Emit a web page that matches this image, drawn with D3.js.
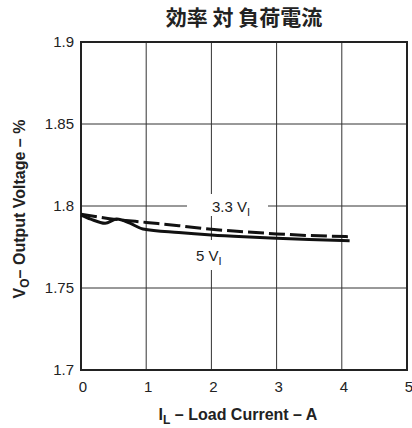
<!DOCTYPE html>
<html>
<head>
<meta charset="utf-8">
<script src="https://cdn.jsdelivr.net/npm/d3@7"></script>
<style>
  body { margin: 0; background: #fff; }
  text { font-family: "Liberation Sans", Arial, sans-serif; fill: #222; }
</style>
</head>
<body>
<svg id="chart" width="412" height="428"></svg>
<script>
// load current (A) and output voltage readings
var current5V = [0, 0.15, 0.37, 0.55, 0.75, 0.95, 1.5, 2, 2.5, 3, 3.5, 4.12];
var volts5V   = [1.7945, 1.792, 1.7895, 1.792, 1.7895, 1.786, 1.7838, 1.7823, 1.7812, 1.7803, 1.7795, 1.7788];

var current33V = [0, 0.5, 1, 1.5, 2, 2.5, 3, 3.5, 4.12];
var volts33V   = [1.795, 1.792, 1.790, 1.788, 1.7858, 1.7843, 1.783, 1.782, 1.7813];

var xTicks = [0, 1, 2, 3, 4, 5];
var yTicks = [1.7, 1.75, 1.8, 1.85, 1.9];

var svg = d3.select("#chart");

var plotL = 81, plotR = 407, plotT = 42, plotB = 370;

var x = d3.scaleLinear().domain([0, 5]).range([plotL, plotR]);
var y = d3.scaleLinear().domain([1.7, 1.9]).range([plotB, plotT]);

// grid
svg.append("g").selectAll("line")
  .data(xTicks.slice(1, -1))
  .enter().append("line")
  .attr("x1", d => x(d)).attr("x2", d => x(d))
  .attr("y1", plotT).attr("y2", plotB)
  .attr("stroke", "#333").attr("stroke-width", 1);

svg.append("g").selectAll("line")
  .data(yTicks.slice(1, -1))
  .enter().append("line")
  .attr("x1", plotL).attr("x2", plotR)
  .attr("y1", d => y(d)).attr("y2", d => y(d))
  .attr("stroke", "#333").attr("stroke-width", 1);

// label backgrounds (knock out grid behind labels)
svg.append("rect").attr("x", 187).attr("y", 194).attr("width", 81).attr("height", 22).attr("fill", "#fff");
svg.append("rect").attr("x", 192).attr("y", 240).attr("width", 36).attr("height", 30).attr("fill", "#fff");

// frame
svg.append("rect")
  .attr("x", plotL).attr("y", plotT)
  .attr("width", plotR - plotL).attr("height", plotB - plotT)
  .attr("fill", "none").attr("stroke", "#222").attr("stroke-width", 2);

var line = d3.line().x(d => x(d[0])).y(d => y(d[1])).curve(d3.curveMonotoneX);

svg.append("path")
  .datum(d3.zip(current5V, volts5V))
  .attr("d", line)
  .attr("fill", "none").attr("stroke", "#111").attr("stroke-width", 3);

svg.append("path")
  .datum(d3.zip(current33V, volts33V))
  .attr("d", line)
  .attr("fill", "none").attr("stroke", "#111").attr("stroke-width", 3)
  .attr("stroke-dasharray", "16,5");

// tick labels
svg.append("g").selectAll("text")
  .data(yTicks)
  .enter().append("text")
  .attr("x", plotL - 7).attr("y", d => y(d) + 5)
  .attr("text-anchor", "end").attr("font-size", 15)
  .text(d => d3.format("~g")(d));

svg.append("g").selectAll("text")
  .data(xTicks)
  .enter().append("text")
  .attr("x", d => x(d) + 2).attr("y", 392)
  .attr("text-anchor", "middle").attr("font-size", 15)
  .text(d => d);

// curve labels
var l1 = svg.append("text").attr("x", 212).attr("y", 212).attr("font-size", 15);
l1.append("tspan").text("3.3 V");
l1.append("tspan").attr("dy", 4).attr("font-size", 11).text("I");

var l2 = svg.append("text").attr("x", 196).attr("y", 261).attr("font-size", 15);
l2.append("tspan").text("5 V");
l2.append("tspan").attr("dy", 4).attr("font-size", 11).text("I");

// title
svg.append("text")
  .attr("x", 244).attr("y", 25)
  .attr("text-anchor", "middle")
  .attr("font-size", 21).attr("font-weight", "bold")
  .style("font-family", "'Noto Sans CJK JP', sans-serif")
  .text("効率 対 負荷電流");

// x axis title
var xt = svg.append("text")
  .attr("x", 238).attr("y", 420)
  .attr("text-anchor", "middle")
  .attr("font-size", 16).attr("font-weight", "bold");
xt.append("tspan").text("I");
xt.append("tspan").attr("dy", 4).attr("font-size", 12).text("L");
xt.append("tspan").attr("dy", -4).text(" – Load Current – A");

// y axis title
var yt = svg.append("text")
  .attr("transform", "translate(25,209) rotate(-90)")
  .attr("text-anchor", "middle")
  .attr("font-size", 16).attr("font-weight", "bold");
yt.append("tspan").text("V");
yt.append("tspan").attr("dy", 4).attr("font-size", 12).text("O");
yt.append("tspan").attr("dy", -4).text("– Output Voltage – %");
</script>
</body>
</html>
